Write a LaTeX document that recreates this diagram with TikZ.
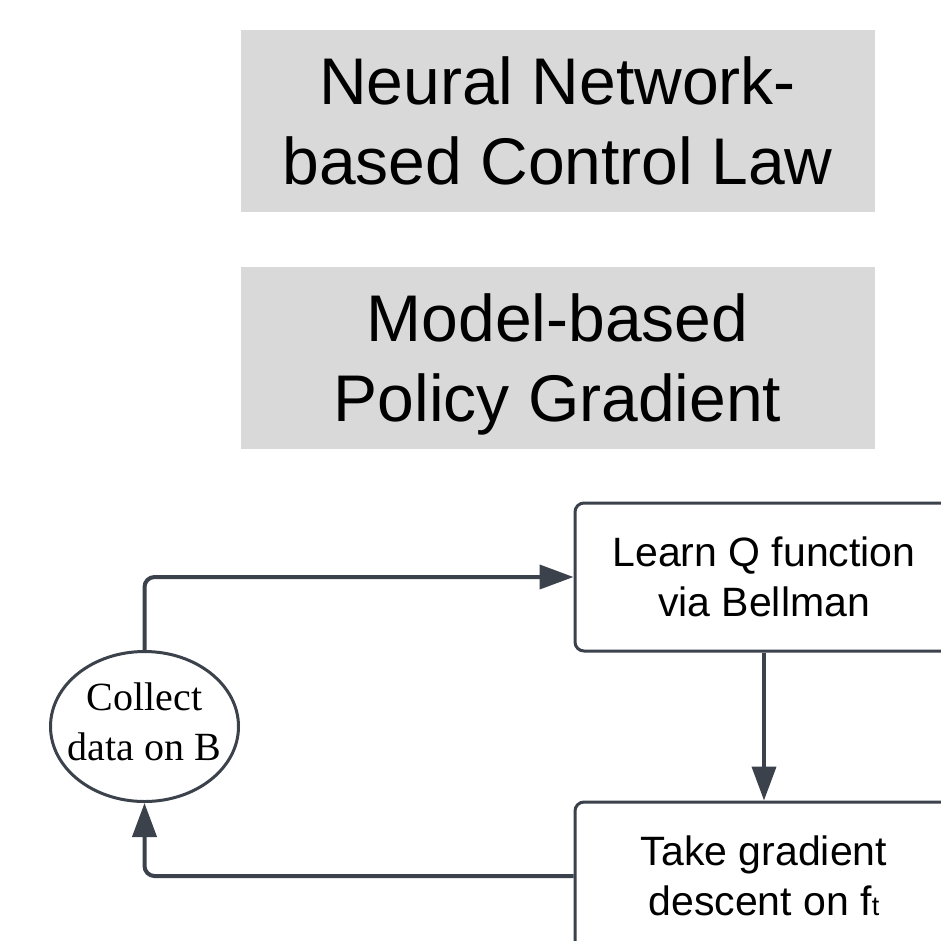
\documentclass[tikz,border=0pt]{standalone}
\usepackage{fontspec}
\setmainfont{Liberation Serif}
\newfontfamily\arialfont{Liberation Sans}
\usetikzlibrary{arrows.meta,shapes.geometric}
\definecolor{strokec}{HTML}{3B424B}
\definecolor{grayfill}{HTML}{D9D9D9}
\tikzset{
  graybox/.style={rectangle, fill=grayfill, draw=none, inner sep=0pt,
    minimum width=634pt, minimum height=182pt, align=center,
    font=\arialfont\fontsize{66}{80}\selectfont},
  stepbox/.style={rectangle, draw=strokec, line width=3pt, rounded corners=9pt,
    inner sep=0pt, minimum width=378pt, minimum height=148pt, align=center,
    font=\arialfont\fontsize{41}{50}\selectfont},
  collectnode/.style={ellipse, draw=strokec, line width=3pt, inner sep=0pt,
    minimum width=188pt, minimum height=150pt},
  collectlabel/.style={inner sep=0pt, align=center, text depth=0pt,
    font=\fontsize{40}{50}\selectfont},
  conn/.style={draw=strokec, line width=4pt, rounded corners=10pt,
    -{Triangle[length=34pt,width=24pt]}},
}
\begin{document}
\begin{tikzpicture}[x=1pt,y=-1pt]
\clip (0,0) rectangle (941,940);
\fill[white] (0,0) rectangle (941,940);
\node[graybox] (nn) at (557.5,121) {Neural Network-\\based Control Law};
\node[graybox, text depth=0pt] (mb) at (557.5,357.5) {Model-based\\Policy Gradient};
\node[stepbox] (learn) at (764,577) {Learn Q function\\via Bellman};
\node[stepbox] (take) at (764,876) {Take gradient\\descent on f{\fontsize{27}{27}\selectfont t}};
\node[collectnode] (collect) at (144.5,726.5) {};
\node[collectlabel] (collecttext) at (144.5,722) {Collect\\data on B};
\draw[conn] (collect.north) |- (learn.west);
\draw[conn] (learn.south) -- (take.north);
\draw[conn] (take.west) -| (collect.south);
\end{tikzpicture}
\end{document}
